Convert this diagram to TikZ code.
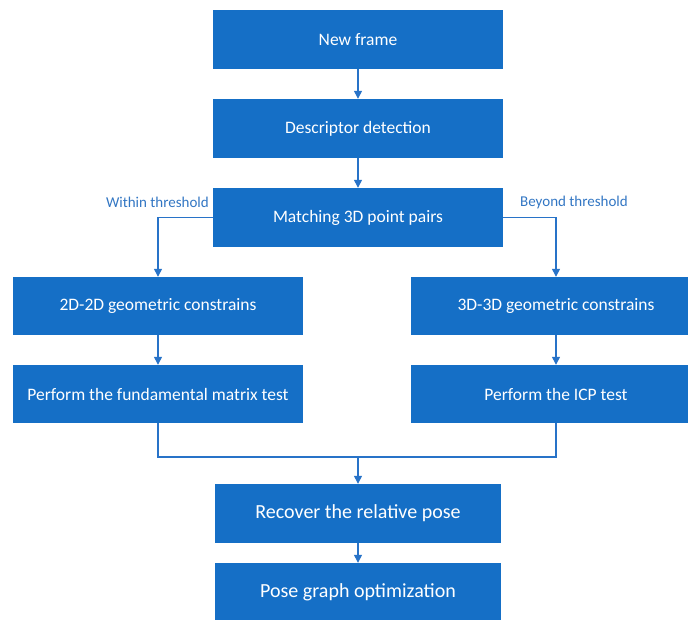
\documentclass[tikz,border=0pt]{standalone}
\usepackage{fontspec}
\setmainfont{Carlito}
\usetikzlibrary{arrows.meta}
\definecolor{boxblue}{RGB}{21,111,198}
\definecolor{lineblue}{RGB}{40,115,200}
\definecolor{lblblue}{RGB}{50,118,195}
\begin{document}
\begin{tikzpicture}[x=1pt,y=-1pt,
  stepbox/.style={draw=none,fill=boxblue,text=white,minimum width=290pt,minimum height=59pt,inner sep=0pt,font=\fontsize{17.5}{20}\selectfont},
  bigbox/.style={stepbox,minimum width=286pt,font=\fontsize{20}{24}\selectfont},
  conn/.style={draw=lineblue,line width=1.3pt},
  arr/.style={conn,-{Triangle[length=8pt,width=8pt]}},
  lbl/.style={text=lblblue,font=\fontsize{15}{18}\selectfont,inner sep=0pt}]
\useasboundingbox (0,0) rectangle (688,619);
\node[stepbox] (nf) at (358,39.5) {New frame};
\node[stepbox] (dd) at (358,128.5) {Descriptor detection};
\node[stepbox] (mp) at (358,217.5) {Matching 3D point pairs};
\node[stepbox,minimum height=58pt] (g2) at (158,306) {2D-2D geometric constrains};
\node[stepbox,minimum height=58pt] (g3) at (556,306) {3D-3D geometric constrains};
\node[stepbox,minimum height=58pt] (ft) at (158,394) {Perform the fundamental matrix test};
\node[stepbox,minimum height=58pt] (icp) at (556,394) {Perform the ICP test};
\node[bigbox] (rp) at (358,513.5) {Recover the relative pose};
\node[bigbox] (pg) at (358,592.5) {Pose graph optimization};
\node[lbl,anchor=east] (wt) at (209,202) {Within threshold};
\node[lbl,anchor=west] (bt) at (520,202) {Beyond threshold};
\draw[arr] (nf) -- (dd);
\draw[arr] (dd) -- (mp);
\draw[arr] (mp.west) -| (g2.north);
\draw[arr] (mp.east) -| (g3.north);
\draw[arr] (g2) -- (ft);
\draw[arr] (g3) -- (icp);
\coordinate (mid) at (358,457);
\draw[conn] (ft.south) |- (mid) -| (icp.south);
\draw[arr] (mid) -- (rp.north);
\draw[arr] (rp) -- (pg);
\end{tikzpicture}
\end{document}
